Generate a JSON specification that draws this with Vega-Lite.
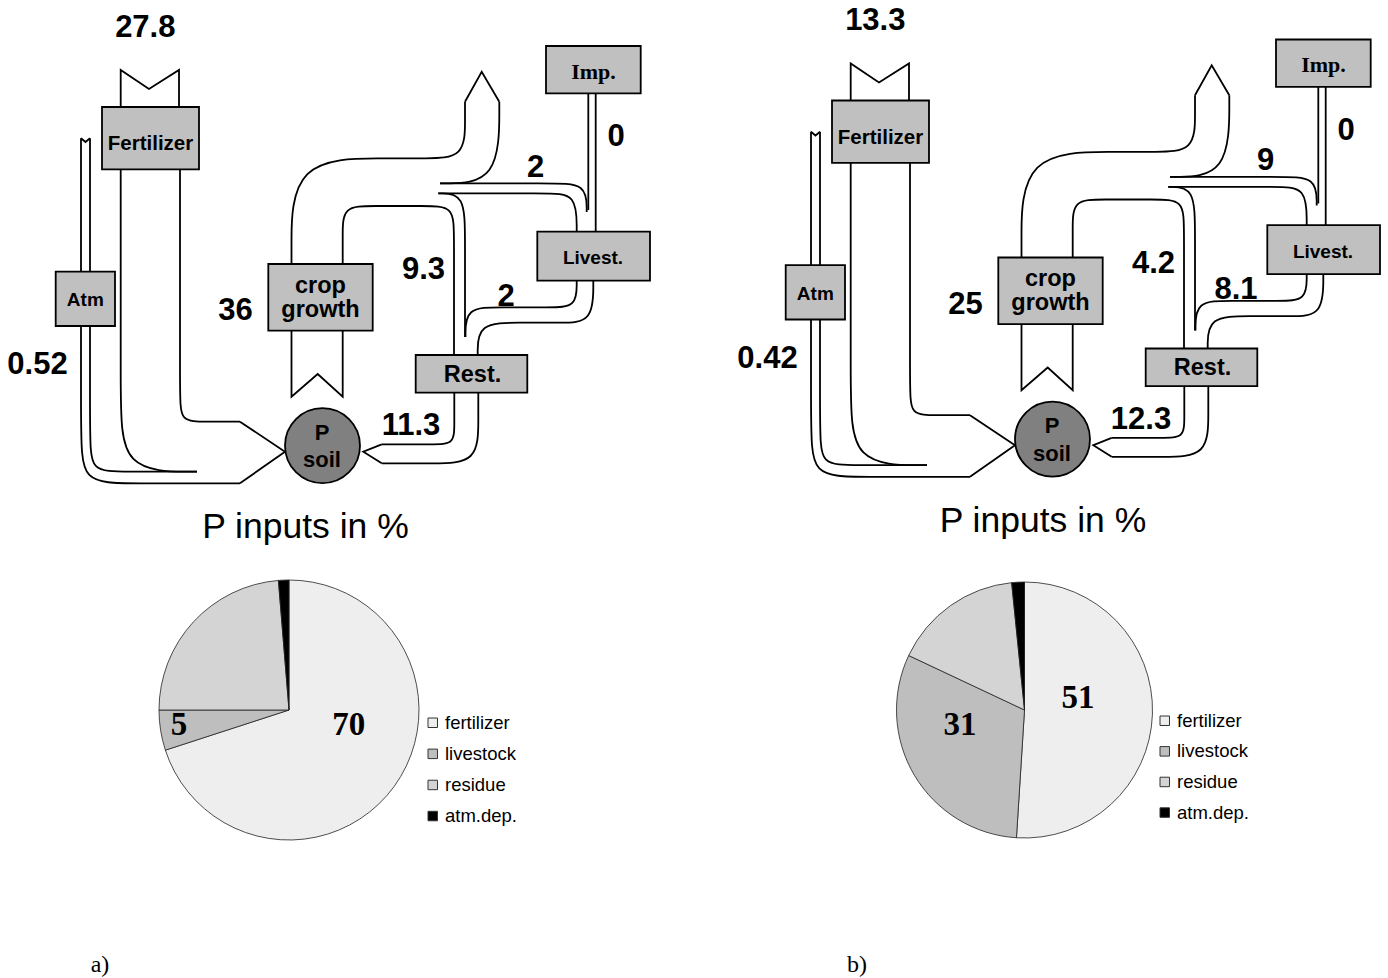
{
  "$schema": "https://vega.github.io/schema/vega-lite/v6.json",
  "padding": 0,
  "spacing": 0,
  "bounds": "flush",
  "background": "#ffffff",
  "config": {"view": {"stroke": null}, "concat": {"spacing": 0}},
  "resolve": {
    "scale": {"x": "independent", "y": "independent", "theta": "independent", "color": "independent"},
    "legend": {"color": "independent"}
  },
  "datasets": {
    "edges": [
      {"path": "fert_l", "kind": "curve", "i": 0, "x": 120.7, "y": 169},
      {"path": "fert_l", "kind": "curve", "i": 1, "x": 120.7, "y": 395},
      {"path": "fert_l", "kind": "curve", "i": 2, "x": 120.7, "y": 471.7},
      {"path": "fert_l", "kind": "curve", "i": 3, "x": 197, "y": 471.7},
      {"path": "fert_r", "kind": "curve", "i": 0, "x": 180, "y": 169},
      {"path": "fert_r", "kind": "curve", "i": 1, "x": 180, "y": 395.7},
      {"path": "fert_r", "kind": "curve", "i": 2, "x": 180, "y": 421.7},
      {"path": "fert_r", "kind": "curve", "i": 3, "x": 206, "y": 421.7},
      {"path": "fert_r", "kind": "curve", "i": 4, "x": 240, "y": 421.7},
      {"path": "atm_out", "kind": "curve", "i": 0, "x": 81, "y": 138.3},
      {"path": "atm_out", "kind": "curve", "i": 1, "x": 81, "y": 433},
      {"path": "atm_out", "kind": "curve", "i": 2, "x": 81, "y": 483.3},
      {"path": "atm_out", "kind": "curve", "i": 3, "x": 131, "y": 483.3},
      {"path": "atm_out", "kind": "curve", "i": 4, "x": 240, "y": 483.3},
      {"path": "atm_in", "kind": "curve", "i": 0, "x": 90, "y": 138.3},
      {"path": "atm_in", "kind": "curve", "i": 1, "x": 90, "y": 436.7},
      {"path": "atm_in", "kind": "curve", "i": 2, "x": 90, "y": 471.7},
      {"path": "atm_in", "kind": "curve", "i": 3, "x": 125, "y": 471.7},
      {"path": "atm_in", "kind": "curve", "i": 4, "x": 197, "y": 471.7},
      {"path": "export_l", "kind": "curve", "i": 0, "x": 291.5, "y": 264},
      {"path": "export_l", "kind": "curve", "i": 1, "x": 291.5, "y": 253},
      {"path": "export_l", "kind": "curve", "i": 2, "x": 291.5, "y": 158.3},
      {"path": "export_l", "kind": "curve", "i": 3, "x": 387, "y": 158.3},
      {"path": "export_l", "kind": "curve", "i": 4, "x": 425, "y": 158.3},
      {"path": "export_l", "kind": "curve", "i": 5, "x": 465, "y": 158.3},
      {"path": "export_l", "kind": "curve", "i": 6, "x": 465, "y": 118.3},
      {"path": "export_l", "kind": "curve", "i": 7, "x": 465, "y": 101.7},
      {"path": "export_r", "kind": "curve", "i": 0, "x": 499.3, "y": 101.7},
      {"path": "export_r", "kind": "curve", "i": 1, "x": 499.3, "y": 183.3},
      {"path": "export_r", "kind": "curve", "i": 2, "x": 440, "y": 183.3},
      {"path": "residue_l", "kind": "curve", "i": 0, "x": 342.7, "y": 264},
      {"path": "residue_l", "kind": "curve", "i": 1, "x": 342.7, "y": 235},
      {"path": "residue_l", "kind": "curve", "i": 2, "x": 342.7, "y": 206},
      {"path": "residue_l", "kind": "curve", "i": 3, "x": 372, "y": 206},
      {"path": "residue_l", "kind": "curve", "i": 4, "x": 425, "y": 206},
      {"path": "residue_l", "kind": "curve", "i": 5, "x": 454, "y": 206},
      {"path": "residue_l", "kind": "curve", "i": 6, "x": 454, "y": 235},
      {"path": "residue_l", "kind": "curve", "i": 7, "x": 454, "y": 355},
      {"path": "residue_r", "kind": "curve", "i": 0, "x": 438.3, "y": 193.3},
      {"path": "residue_r", "kind": "curve", "i": 1, "x": 465, "y": 193.3},
      {"path": "residue_r", "kind": "curve", "i": 2, "x": 465, "y": 240},
      {"path": "residue_r", "kind": "curve", "i": 3, "x": 465, "y": 337},
      {"path": "feed_lo", "kind": "curve", "i": 0, "x": 438.3, "y": 193.3},
      {"path": "feed_lo", "kind": "curve", "i": 1, "x": 547, "y": 193.3},
      {"path": "feed_lo", "kind": "curve", "i": 2, "x": 576.7, "y": 193.3},
      {"path": "feed_lo", "kind": "curve", "i": 3, "x": 576.7, "y": 231.7},
      {"path": "feed_hi", "kind": "curve", "i": 0, "x": 440, "y": 183.3},
      {"path": "feed_hi", "kind": "curve", "i": 1, "x": 550, "y": 183.3},
      {"path": "feed_hi", "kind": "curve", "i": 2, "x": 586.7, "y": 183.3},
      {"path": "feed_hi", "kind": "curve", "i": 3, "x": 586.7, "y": 212},
      {"path": "manure_hi", "kind": "curve", "i": 0, "x": 576.7, "y": 280.7},
      {"path": "manure_hi", "kind": "curve", "i": 1, "x": 576.7, "y": 307.3},
      {"path": "manure_hi", "kind": "curve", "i": 2, "x": 550, "y": 307.3},
      {"path": "manure_hi", "kind": "curve", "i": 3, "x": 500, "y": 307.3},
      {"path": "manure_hi", "kind": "curve", "i": 4, "x": 465.5, "y": 307.3},
      {"path": "manure_hi", "kind": "curve", "i": 5, "x": 465.5, "y": 337},
      {"path": "manure_lo", "kind": "curve", "i": 0, "x": 593.3, "y": 280.7},
      {"path": "manure_lo", "kind": "curve", "i": 1, "x": 593.3, "y": 322.7},
      {"path": "manure_lo", "kind": "curve", "i": 2, "x": 560, "y": 322.7},
      {"path": "manure_lo", "kind": "curve", "i": 3, "x": 520, "y": 322.7},
      {"path": "manure_lo", "kind": "curve", "i": 4, "x": 477.7, "y": 322.7},
      {"path": "manure_lo", "kind": "curve", "i": 5, "x": 477.7, "y": 355},
      {"path": "rest_hi", "kind": "curve", "i": 0, "x": 454.3, "y": 392.7},
      {"path": "rest_hi", "kind": "curve", "i": 1, "x": 454.3, "y": 424},
      {"path": "rest_hi", "kind": "curve", "i": 2, "x": 454.3, "y": 444.3},
      {"path": "rest_hi", "kind": "curve", "i": 3, "x": 434, "y": 444.3},
      {"path": "rest_hi", "kind": "curve", "i": 4, "x": 381.7, "y": 444.3},
      {"path": "rest_lo", "kind": "curve", "i": 0, "x": 478.3, "y": 392.7},
      {"path": "rest_lo", "kind": "curve", "i": 1, "x": 478.3, "y": 418},
      {"path": "rest_lo", "kind": "curve", "i": 2, "x": 478.3, "y": 463.3},
      {"path": "rest_lo", "kind": "curve", "i": 3, "x": 433, "y": 463.3},
      {"path": "rest_lo", "kind": "curve", "i": 4, "x": 381.7, "y": 463.3},
      {"path": "fert_tail", "kind": "straight", "i": 0, "x": 120.7, "y": 107},
      {"path": "fert_tail", "kind": "straight", "i": 1, "x": 120.7, "y": 70},
      {"path": "fert_tail", "kind": "straight", "i": 2, "x": 149, "y": 89},
      {"path": "fert_tail", "kind": "straight", "i": 3, "x": 179, "y": 70},
      {"path": "fert_tail", "kind": "straight", "i": 4, "x": 179, "y": 107},
      {"path": "atm_tail", "kind": "straight", "i": 0, "x": 81, "y": 138.3},
      {"path": "atm_tail", "kind": "straight", "i": 1, "x": 85.5, "y": 142},
      {"path": "atm_tail", "kind": "straight", "i": 2, "x": 90, "y": 138.3},
      {"path": "soil_head", "kind": "straight", "i": 0, "x": 240, "y": 421.7},
      {"path": "soil_head", "kind": "straight", "i": 1, "x": 285, "y": 451.7},
      {"path": "soil_head", "kind": "straight", "i": 2, "x": 240, "y": 483.3},
      {"path": "crop_tail", "kind": "straight", "i": 0, "x": 291.5, "y": 330.7},
      {"path": "crop_tail", "kind": "straight", "i": 1, "x": 291.5, "y": 396.7},
      {"path": "crop_tail", "kind": "straight", "i": 2, "x": 317.7, "y": 374},
      {"path": "crop_tail", "kind": "straight", "i": 3, "x": 342.7, "y": 396.7},
      {"path": "crop_tail", "kind": "straight", "i": 4, "x": 342.7, "y": 330.7},
      {"path": "export_head", "kind": "straight", "i": 0, "x": 465, "y": 101.7},
      {"path": "export_head", "kind": "straight", "i": 1, "x": 481.7, "y": 71.7},
      {"path": "export_head", "kind": "straight", "i": 2, "x": 499.3, "y": 101.7},
      {"path": "imp_l", "kind": "straight", "i": 0, "x": 588.3, "y": 93.3},
      {"path": "imp_l", "kind": "straight", "i": 1, "x": 588.3, "y": 210},
      {"path": "imp_r", "kind": "straight", "i": 0, "x": 595.7, "y": 93.3},
      {"path": "imp_r", "kind": "straight", "i": 1, "x": 595.7, "y": 231.7},
      {"path": "rest_head", "kind": "straight", "i": 0, "x": 381.7, "y": 444.3},
      {"path": "rest_head", "kind": "straight", "i": 1, "x": 363.3, "y": 451.7},
      {"path": "rest_head", "kind": "straight", "i": 2, "x": 381.7, "y": 463.3}
    ],
    "boxes": [
      {"box": "Fertilizer", "x": 102, "x2": 199, "y": 107, "y2": 169.3},
      {"box": "Atm", "x": 55.7, "x2": 115, "y": 271.7, "y2": 326},
      {"box": "crop growth", "x": 268.3, "x2": 372.7, "y": 264, "y2": 330.7},
      {"box": "Imp.", "x": 546, "x2": 640.7, "y": 46, "y2": 93.3},
      {"box": "Livest.", "x": 537.3, "x2": 650, "y": 231.7, "y2": 280.7},
      {"box": "Rest.", "x": 415.7, "x2": 527.3, "y": 355, "y2": 392.7}
    ],
    "soil": [{"node": "P soil", "x": 322.5, "y": 445.7}],
    "names": [
      {"name": "Fertilizer", "text": "Fertilizer", "x": 150.5, "y": 143},
      {"name": "Atm", "text": "Atm", "x": 85.3, "y": 299},
      {"name": "Livest.", "text": "Livest.", "x": 593, "y": 257},
      {"name": "crop growth", "text": ["crop", "growth"], "x": 320.5, "y": 284.5},
      {"name": "Rest.", "text": "Rest.", "x": 472.5, "y": 373.5},
      {"name": "P soil", "text": ["P", "soil"], "x": 322, "y": 431.5},
      {"name": "Imp.", "text": "Imp.", "x": 593.5, "y": 70.5}
    ],
    "anchors": [
      {"flow": "fertilizer", "x": 145.3, "y": 25.5},
      {"flow": "atmosphere", "x": 37.5, "y": 363},
      {"flow": "uptake", "x": 235.5, "y": 309},
      {"flow": "residue", "x": 423.5, "y": 268.3},
      {"flow": "manure", "x": 506, "y": 294.5},
      {"flow": "feed", "x": 535.5, "y": 165.5},
      {"flow": "return", "x": 411, "y": 424},
      {"flow": "import", "x": 616, "y": 135}
    ],
    "flows": [
      {"panel": "a", "flow": "fertilizer", "value": 27.8},
      {"panel": "a", "flow": "atmosphere", "value": 0.52},
      {"panel": "a", "flow": "uptake", "value": 36},
      {"panel": "a", "flow": "residue", "value": 9.3},
      {"panel": "a", "flow": "manure", "value": 2},
      {"panel": "a", "flow": "feed", "value": 2},
      {"panel": "a", "flow": "return", "value": 11.3},
      {"panel": "a", "flow": "import", "value": 0},
      {"panel": "b", "flow": "fertilizer", "value": 13.3},
      {"panel": "b", "flow": "atmosphere", "value": 0.42},
      {"panel": "b", "flow": "uptake", "value": 25},
      {"panel": "b", "flow": "residue", "value": 4.2},
      {"panel": "b", "flow": "manure", "value": 8.1},
      {"panel": "b", "flow": "feed", "value": 9},
      {"panel": "b", "flow": "return", "value": 12.3},
      {"panel": "b", "flow": "import", "value": 0}
    ],
    "pies": [
      {"panel": "a", "cx": 289, "cy": 710},
      {"panel": "b", "cx": 294.5, "cy": 716.5}
    ],
    "shares": [
      {"panel": "a", "source": "fertilizer", "rank": 1, "pct": 70, "lx": 348.8, "ly": 722.8},
      {"panel": "a", "source": "livestock", "rank": 2, "pct": 5, "lx": 179, "ly": 722.8},
      {"panel": "a", "source": "residue", "rank": 3, "pct": 23.7},
      {"panel": "a", "source": "atm.dep.", "rank": 4, "pct": 1.3},
      {"panel": "b", "source": "fertilizer", "rank": 1, "pct": 51, "lx": 348, "ly": 702.5},
      {"panel": "b", "source": "livestock", "rank": 2, "pct": 31, "lx": 230, "ly": 729.8},
      {"panel": "b", "source": "residue", "rank": 3, "pct": 16.4},
      {"panel": "b", "source": "atm.dep.", "rank": 4, "pct": 1.6}
    ],
    "captions": [
      {"panel": "a", "role": "title", "text": "P inputs in %", "x": 305.5, "y": 538.3},
      {"panel": "a", "role": "tag", "text": "a)", "x": 100, "y": 965},
      {"panel": "b", "role": "title", "text": "P inputs in %", "x": 313, "y": 538.3},
      {"panel": "b", "role": "tag", "text": "b)", "x": 127, "y": 971.5}
    ]
  },
  "hconcat": [
    {
      "width": 730,
      "height": 978,
      "layer": [
        {"data": {"name": "edges"}, "transform": [{"filter": "datum.kind === 'curve'"}],
         "mark": {"type": "line", "interpolate": "basis", "stroke": "#000", "strokeWidth": 1.8},
         "encoding": {
           "x": {"field": "x", "type": "quantitative", "scale": {"domain": [0, 730], "nice": false, "zero": false}, "axis": null},
           "y": {"field": "y", "type": "quantitative", "scale": {"domain": [0, 978], "nice": false, "zero": false, "reverse": true}, "axis": null},
           "detail": {"field": "path"}, "order": {"field": "i", "type": "quantitative"}}},
        {"data": {"name": "edges"}, "transform": [{"filter": "datum.kind === 'straight'"}],
         "mark": {"type": "line", "interpolate": "linear", "stroke": "#000", "strokeWidth": 1.8, "strokeJoin": "miter"},
         "encoding": {
           "x": {"field": "x", "type": "quantitative", "scale": {"domain": [0, 730], "nice": false, "zero": false}, "axis": null},
           "y": {"field": "y", "type": "quantitative", "scale": {"domain": [0, 978], "nice": false, "zero": false, "reverse": true}, "axis": null},
           "detail": {"field": "path"}, "order": {"field": "i", "type": "quantitative"}}},
        {"data": {"name": "boxes"},
         "mark": {"type": "rect", "fill": "#c0c0c0", "stroke": "#000", "strokeWidth": 1.8},
         "encoding": {
           "x": {"field": "x", "type": "quantitative", "scale": {"domain": [0, 730], "nice": false, "zero": false}, "axis": null},
           "y": {"field": "y", "type": "quantitative", "scale": {"domain": [0, 978], "nice": false, "zero": false, "reverse": true}, "axis": null},
           "x2": {"field": "x2"}, "y2": {"field": "y2"}}},
        {"data": {"name": "soil"},
         "mark": {"type": "circle", "size": 5625, "fill": "#808080", "stroke": "#000", "strokeWidth": 1.8, "opacity": 1},
         "encoding": {
           "x": {"field": "x", "type": "quantitative", "scale": {"domain": [0, 730], "nice": false, "zero": false}, "axis": null},
           "y": {"field": "y", "type": "quantitative", "scale": {"domain": [0, 978], "nice": false, "zero": false, "reverse": true}, "axis": null}}},
        {"data": {"name": "names"}, "transform": [{"filter": {"field": "name", "equal": "Fertilizer"}}],
         "mark": {"type": "text", "font": "Liberation Sans", "fontWeight": "bold", "fontSize": 20.5, "dy": 1},
         "encoding": {
           "x": {"field": "x", "type": "quantitative", "scale": {"domain": [0, 730], "nice": false, "zero": false}, "axis": null},
           "y": {"field": "y", "type": "quantitative", "scale": {"domain": [0, 978], "nice": false, "zero": false, "reverse": true}, "axis": null},
           "text": {"field": "text"}}},
        {"data": {"name": "names"}, "transform": [{"filter": {"field": "name", "oneOf": ["Atm", "Livest."]}}],
         "mark": {"type": "text", "font": "Liberation Sans", "fontWeight": "bold", "fontSize": 19, "dy": 1},
         "encoding": {
           "x": {"field": "x", "type": "quantitative", "scale": {"domain": [0, 730], "nice": false, "zero": false}, "axis": null},
           "y": {"field": "y", "type": "quantitative", "scale": {"domain": [0, 978], "nice": false, "zero": false, "reverse": true}, "axis": null},
           "text": {"field": "text"}}},
        {"data": {"name": "names"}, "transform": [{"filter": {"field": "name", "oneOf": ["crop growth", "Rest."]}}],
         "mark": {"type": "text", "font": "Liberation Sans", "fontWeight": "bold", "fontSize": 23.5, "lineHeight": 24, "dy": 1},
         "encoding": {
           "x": {"field": "x", "type": "quantitative", "scale": {"domain": [0, 730], "nice": false, "zero": false}, "axis": null},
           "y": {"field": "y", "type": "quantitative", "scale": {"domain": [0, 978], "nice": false, "zero": false, "reverse": true}, "axis": null},
           "text": {"field": "text"}}},
        {"data": {"name": "names"}, "transform": [{"filter": {"field": "name", "equal": "P soil"}}],
         "mark": {"type": "text", "font": "Liberation Sans", "fontWeight": "bold", "fontSize": 22, "lineHeight": 27.5, "dy": 1},
         "encoding": {
           "x": {"field": "x", "type": "quantitative", "scale": {"domain": [0, 730], "nice": false, "zero": false}, "axis": null},
           "y": {"field": "y", "type": "quantitative", "scale": {"domain": [0, 978], "nice": false, "zero": false, "reverse": true}, "axis": null},
           "text": {"field": "text"}}},
        {"data": {"name": "names"}, "transform": [{"filter": {"field": "name", "equal": "Imp."}}],
         "mark": {"type": "text", "font": "Liberation Serif", "fontWeight": "bold", "fontSize": 22, "dy": 1},
         "encoding": {
           "x": {"field": "x", "type": "quantitative", "scale": {"domain": [0, 730], "nice": false, "zero": false}, "axis": null},
           "y": {"field": "y", "type": "quantitative", "scale": {"domain": [0, 978], "nice": false, "zero": false, "reverse": true}, "axis": null},
           "text": {"field": "text"}}},
        {"data": {"name": "flows"},
         "transform": [{"filter": "datum.panel === 'a'"}, {"lookup": "flow", "from": {"data": {"name": "anchors"}, "key": "flow", "fields": ["x", "y"]}}],
         "mark": {"type": "text", "font": "Liberation Sans", "fontWeight": "bold", "fontSize": 31, "dy": 2},
         "encoding": {
           "x": {"field": "x", "type": "quantitative", "scale": {"domain": [0, 730], "nice": false, "zero": false}, "axis": null},
           "y": {"field": "y", "type": "quantitative", "scale": {"domain": [0, 978], "nice": false, "zero": false, "reverse": true}, "axis": null},
           "text": {"field": "value", "type": "nominal"}}},
        {"data": {"name": "shares"},
         "transform": [{"filter": "datum.panel === 'a'"}, {"lookup": "panel", "from": {"data": {"name": "pies"}, "key": "panel", "fields": ["cx", "cy"]}}],
         "mark": {"type": "arc", "outerRadius": 130, "stroke": "#222", "strokeWidth": 0.8},
         "encoding": {
           "x": {"field": "cx", "type": "quantitative", "scale": {"domain": [0, 730], "nice": false, "zero": false}, "axis": null},
           "y": {"field": "cy", "type": "quantitative", "scale": {"domain": [0, 978], "nice": false, "zero": false, "reverse": true}, "axis": null},
           "theta": {"field": "pct", "type": "quantitative", "stack": true, "scale": {"domain": [0, 100]}},
           "order": {"field": "rank", "type": "quantitative"},
           "color": {"field": "source", "type": "nominal",
             "scale": {"domain": ["fertilizer", "livestock", "residue", "atm.dep."], "range": ["#eeeeee", "#bebebe", "#d4d4d4", "#000000"]},
             "legend": {"title": null, "orient": "none", "legendX": 423.5, "legendY": 713.5, "padding": 0,
               "symbolType": "square", "symbolSize": 90, "symbolStrokeColor": "#333", "symbolStrokeWidth": 1,
               "labelFont": "Liberation Sans", "labelFontSize": 18.5, "labelColor": "#000", "labelOffset": 3, "rowPadding": 12.1}}
         }},
        {"data": {"name": "shares"}, "transform": [{"filter": "datum.panel === 'a' && isValid(datum.lx)"}],
         "mark": {"type": "text", "font": "Liberation Serif", "fontWeight": "bold", "fontSize": 33, "dy": 2},
         "encoding": {
           "x": {"field": "lx", "type": "quantitative", "scale": {"domain": [0, 730], "nice": false, "zero": false}, "axis": null},
           "y": {"field": "ly", "type": "quantitative", "scale": {"domain": [0, 978], "nice": false, "zero": false, "reverse": true}, "axis": null},
           "text": {"field": "pct", "type": "nominal"}}},
        {"data": {"name": "captions"}, "transform": [{"filter": "datum.panel === 'a' && datum.role === 'title'"}],
         "mark": {"type": "text", "font": "Liberation Sans", "fontSize": 35.5, "baseline": "alphabetic"},
         "encoding": {
           "x": {"field": "x", "type": "quantitative", "scale": {"domain": [0, 730], "nice": false, "zero": false}, "axis": null},
           "y": {"field": "y", "type": "quantitative", "scale": {"domain": [0, 978], "nice": false, "zero": false, "reverse": true}, "axis": null},
           "text": {"field": "text"}}},
        {"data": {"name": "captions"}, "transform": [{"filter": "datum.panel === 'a' && datum.role === 'tag'"}],
         "mark": {"type": "text", "font": "Liberation Serif", "fontSize": 24},
         "encoding": {
           "x": {"field": "x", "type": "quantitative", "scale": {"domain": [0, 730], "nice": false, "zero": false}, "axis": null},
           "y": {"field": "y", "type": "quantitative", "scale": {"domain": [0, 978], "nice": false, "zero": false, "reverse": true}, "axis": null},
           "text": {"field": "text"}}}
      ]
    },
    {
      "width": 658,
      "height": 978,
      "layer": [
        {"data": {"name": "edges"}, "transform": [{"filter": "datum.kind === 'curve'"}],
         "mark": {"type": "line", "interpolate": "basis", "stroke": "#000", "strokeWidth": 1.8},
         "encoding": {
           "x": {"field": "x", "type": "quantitative", "scale": {"domain": [0, 658], "nice": false, "zero": false}, "axis": null},
           "y": {"field": "y", "type": "quantitative", "scale": {"domain": [6.5, 984.5], "nice": false, "zero": false, "reverse": true}, "axis": null},
           "detail": {"field": "path"}, "order": {"field": "i", "type": "quantitative"}}},
        {"data": {"name": "edges"}, "transform": [{"filter": "datum.kind === 'straight'"}],
         "mark": {"type": "line", "interpolate": "linear", "stroke": "#000", "strokeWidth": 1.8, "strokeJoin": "miter"},
         "encoding": {
           "x": {"field": "x", "type": "quantitative", "scale": {"domain": [0, 658], "nice": false, "zero": false}, "axis": null},
           "y": {"field": "y", "type": "quantitative", "scale": {"domain": [6.5, 984.5], "nice": false, "zero": false, "reverse": true}, "axis": null},
           "detail": {"field": "path"}, "order": {"field": "i", "type": "quantitative"}}},
        {"data": {"name": "boxes"},
         "mark": {"type": "rect", "fill": "#c0c0c0", "stroke": "#000", "strokeWidth": 1.8},
         "encoding": {
           "x": {"field": "x", "type": "quantitative", "scale": {"domain": [0, 658], "nice": false, "zero": false}, "axis": null},
           "y": {"field": "y", "type": "quantitative", "scale": {"domain": [6.5, 984.5], "nice": false, "zero": false, "reverse": true}, "axis": null},
           "x2": {"field": "x2"}, "y2": {"field": "y2"}}},
        {"data": {"name": "soil"},
         "mark": {"type": "circle", "size": 5625, "fill": "#808080", "stroke": "#000", "strokeWidth": 1.8, "opacity": 1},
         "encoding": {
           "x": {"field": "x", "type": "quantitative", "scale": {"domain": [0, 658], "nice": false, "zero": false}, "axis": null},
           "y": {"field": "y", "type": "quantitative", "scale": {"domain": [6.5, 984.5], "nice": false, "zero": false, "reverse": true}, "axis": null}}},
        {"data": {"name": "names"}, "transform": [{"filter": {"field": "name", "equal": "Fertilizer"}}],
         "mark": {"type": "text", "font": "Liberation Sans", "fontWeight": "bold", "fontSize": 20.5, "dy": 1},
         "encoding": {
           "x": {"field": "x", "type": "quantitative", "scale": {"domain": [0, 658], "nice": false, "zero": false}, "axis": null},
           "y": {"field": "y", "type": "quantitative", "scale": {"domain": [6.5, 984.5], "nice": false, "zero": false, "reverse": true}, "axis": null},
           "text": {"field": "text"}}},
        {"data": {"name": "names"}, "transform": [{"filter": {"field": "name", "oneOf": ["Atm", "Livest."]}}],
         "mark": {"type": "text", "font": "Liberation Sans", "fontWeight": "bold", "fontSize": 19, "dy": 1},
         "encoding": {
           "x": {"field": "x", "type": "quantitative", "scale": {"domain": [0, 658], "nice": false, "zero": false}, "axis": null},
           "y": {"field": "y", "type": "quantitative", "scale": {"domain": [6.5, 984.5], "nice": false, "zero": false, "reverse": true}, "axis": null},
           "text": {"field": "text"}}},
        {"data": {"name": "names"}, "transform": [{"filter": {"field": "name", "oneOf": ["crop growth", "Rest."]}}],
         "mark": {"type": "text", "font": "Liberation Sans", "fontWeight": "bold", "fontSize": 23.5, "lineHeight": 24, "dy": 1},
         "encoding": {
           "x": {"field": "x", "type": "quantitative", "scale": {"domain": [0, 658], "nice": false, "zero": false}, "axis": null},
           "y": {"field": "y", "type": "quantitative", "scale": {"domain": [6.5, 984.5], "nice": false, "zero": false, "reverse": true}, "axis": null},
           "text": {"field": "text"}}},
        {"data": {"name": "names"}, "transform": [{"filter": {"field": "name", "equal": "P soil"}}],
         "mark": {"type": "text", "font": "Liberation Sans", "fontWeight": "bold", "fontSize": 22, "lineHeight": 27.5, "dy": 1},
         "encoding": {
           "x": {"field": "x", "type": "quantitative", "scale": {"domain": [0, 658], "nice": false, "zero": false}, "axis": null},
           "y": {"field": "y", "type": "quantitative", "scale": {"domain": [6.5, 984.5], "nice": false, "zero": false, "reverse": true}, "axis": null},
           "text": {"field": "text"}}},
        {"data": {"name": "names"}, "transform": [{"filter": {"field": "name", "equal": "Imp."}}],
         "mark": {"type": "text", "font": "Liberation Serif", "fontWeight": "bold", "fontSize": 22, "dy": 1},
         "encoding": {
           "x": {"field": "x", "type": "quantitative", "scale": {"domain": [0, 658], "nice": false, "zero": false}, "axis": null},
           "y": {"field": "y", "type": "quantitative", "scale": {"domain": [6.5, 984.5], "nice": false, "zero": false, "reverse": true}, "axis": null},
           "text": {"field": "text"}}},
        {"data": {"name": "flows"},
         "transform": [{"filter": "datum.panel === 'b'"}, {"lookup": "flow", "from": {"data": {"name": "anchors"}, "key": "flow", "fields": ["x", "y"]}}],
         "mark": {"type": "text", "font": "Liberation Sans", "fontWeight": "bold", "fontSize": 31, "dy": 2},
         "encoding": {
           "x": {"field": "x", "type": "quantitative", "scale": {"domain": [0, 658], "nice": false, "zero": false}, "axis": null},
           "y": {"field": "y", "type": "quantitative", "scale": {"domain": [6.5, 984.5], "nice": false, "zero": false, "reverse": true}, "axis": null},
           "text": {"field": "value", "type": "nominal"}}},
        {"data": {"name": "shares"},
         "transform": [{"filter": "datum.panel === 'b'"}, {"lookup": "panel", "from": {"data": {"name": "pies"}, "key": "panel", "fields": ["cx", "cy"]}}],
         "mark": {"type": "arc", "outerRadius": 128, "stroke": "#222", "strokeWidth": 0.8},
         "encoding": {
           "x": {"field": "cx", "type": "quantitative", "scale": {"domain": [0, 658], "nice": false, "zero": false}, "axis": null},
           "y": {"field": "cy", "type": "quantitative", "scale": {"domain": [6.5, 984.5], "nice": false, "zero": false, "reverse": true}, "axis": null},
           "theta": {"field": "pct", "type": "quantitative", "stack": true, "scale": {"domain": [0, 100]}},
           "order": {"field": "rank", "type": "quantitative"},
           "color": {"field": "source", "type": "nominal",
             "scale": {"domain": ["fertilizer", "livestock", "residue", "atm.dep."], "range": ["#eeeeee", "#bebebe", "#d4d4d4", "#000000"]},
             "legend": {"title": null, "orient": "none", "legendX": 425.5, "legendY": 711.5, "padding": 0,
               "symbolType": "square", "symbolSize": 90, "symbolStrokeColor": "#333", "symbolStrokeWidth": 1,
               "labelFont": "Liberation Sans", "labelFontSize": 18.5, "labelColor": "#000", "labelOffset": 3, "rowPadding": 11.6}}
         }},
        {"data": {"name": "shares"}, "transform": [{"filter": "datum.panel === 'b' && isValid(datum.lx)"}],
         "mark": {"type": "text", "font": "Liberation Serif", "fontWeight": "bold", "fontSize": 33, "dy": 2},
         "encoding": {
           "x": {"field": "lx", "type": "quantitative", "scale": {"domain": [0, 658], "nice": false, "zero": false}, "axis": null},
           "y": {"field": "ly", "type": "quantitative", "scale": {"domain": [6.5, 984.5], "nice": false, "zero": false, "reverse": true}, "axis": null},
           "text": {"field": "pct", "type": "nominal"}}},
        {"data": {"name": "captions"}, "transform": [{"filter": "datum.panel === 'b' && datum.role === 'title'"}],
         "mark": {"type": "text", "font": "Liberation Sans", "fontSize": 35.5, "baseline": "alphabetic"},
         "encoding": {
           "x": {"field": "x", "type": "quantitative", "scale": {"domain": [0, 658], "nice": false, "zero": false}, "axis": null},
           "y": {"field": "y", "type": "quantitative", "scale": {"domain": [6.5, 984.5], "nice": false, "zero": false, "reverse": true}, "axis": null},
           "text": {"field": "text"}}},
        {"data": {"name": "captions"}, "transform": [{"filter": "datum.panel === 'b' && datum.role === 'tag'"}],
         "mark": {"type": "text", "font": "Liberation Serif", "fontSize": 24},
         "encoding": {
           "x": {"field": "x", "type": "quantitative", "scale": {"domain": [0, 658], "nice": false, "zero": false}, "axis": null},
           "y": {"field": "y", "type": "quantitative", "scale": {"domain": [6.5, 984.5], "nice": false, "zero": false, "reverse": true}, "axis": null},
           "text": {"field": "text"}}}
      ]
    }
  ]
}
